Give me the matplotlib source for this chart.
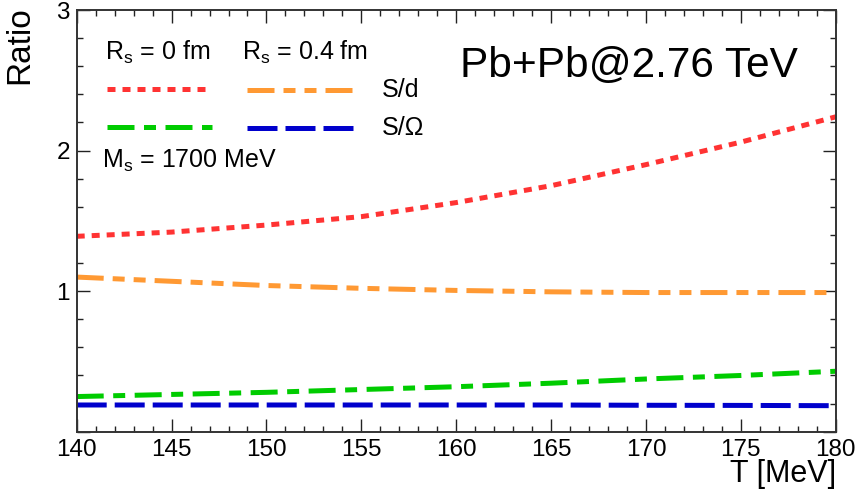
import matplotlib
matplotlib.use("Agg")
import matplotlib.pyplot as plt
from matplotlib.lines import Line2D
from matplotlib.ticker import MultipleLocator

plt.rcParams["font.family"] = ["Liberation Sans", "DejaVu Sans"]
plt.rcParams["mathtext.fontset"] = "custom"
plt.rcParams["mathtext.rm"] = "Liberation Sans"

# ── data ─────────────────────────────────────────────────────────────────────
T = [140, 145, 150, 155, 160, 165, 170, 175, 180]
s_d_r0 = [1.39, 1.42, 1.47, 1.53, 1.63, 1.75, 1.90, 2.06, 2.24]
s_d_r04 = [1.10, 1.07, 1.04, 1.02, 1.005, 0.995, 0.99, 0.99, 0.99]
s_om_r0 = [0.25, 0.265, 0.28, 0.30, 0.32, 0.345, 0.375, 0.40, 0.43]
s_om_r04 = [0.19, 0.19, 0.19, 0.19, 0.19, 0.19, 0.188, 0.187, 0.185]

ytick_vals = [0, 1, 2, 3]
ytick_labels = ["", "1", "2", "3"]
xtick_vals = [140, 145, 150, 155, 160, 165, 170, 175, 180]

RED = "#ff3333"
ORANGE = "#ff9933"
GREEN = "#00cc00"
BLUE = "#0000cc"
LW = 3.6
STYLES = {
    "red":    (0, (1.6, 1.4)),
    "orange": (0, (5.4, 1.8, 2.4, 1.8, 2.4, 1.8)),
    "green":  (0, (5.4, 1.9, 2.4, 1.9)),
    "blue":   (0, (6.0, 1.6)),
}

W, H = 856, 491
fig = plt.figure(figsize=(W / 100, H / 100), dpi=100)
ax = fig.add_axes([76.7 / W, 1 - 431.7 / H, 759 / W, 421.7 / H])

ax.plot(T, s_d_r0, color=RED, lw=LW, ls=STYLES["red"])
ax.plot(T, s_d_r04, color=ORANGE, lw=LW, ls=STYLES["orange"])
ax.plot(T, s_om_r0, color=GREEN, lw=LW, ls=STYLES["green"])
ax.plot(T, s_om_r04, color=BLUE, lw=LW, ls=STYLES["blue"])

ax.set_xlim(140, 180)
ax.set_ylim(0, 3)
ax.set_xticks(xtick_vals)
ax.set_yticks(ytick_vals)
ax.set_yticklabels(ytick_labels)
ax.xaxis.set_minor_locator(MultipleLocator(1))
ax.yaxis.set_minor_locator(MultipleLocator(0.2))
ax.tick_params(which="both", direction="in", top=True, right=True,
               width=1.0, color="#222222", labelsize=17.5, pad=5)
ax.tick_params(which="major", length=9.4)
ax.tick_params(which="minor", length=4.3)
for sp in ax.spines.values():
    sp.set_linewidth(1.4)
    sp.set_color("#333333")


# ── legend / annotations, placed in pixel positions ─────────────────────────
def fx(px):
    return px / W


def fy(py):
    return 1 - py / H


fig.text(fx(20), fy(6), "Ratio", rotation=90, ha="center", va="top", fontsize=24)
# x label sits at the very bottom edge, as in the reference
fig.text(fx(836), fy(489), "T [MeV]", ha="right", va="bottom", fontsize=22)

fig.text(fx(105), fy(60), r"R$_\mathregular{s}$ = 0 fm", fontsize=18, va="baseline")
fig.text(fx(242), fy(60), r"R$_\mathregular{s}$ = 0.4 fm", fontsize=18, va="baseline")
fig.text(fx(102), fy(168), r"M$_\mathregular{s}$ = 1700 MeV", fontsize=18, va="baseline")
fig.text(fx(382), fy(90), "S/d", fontsize=18, va="center")
fig.text(fx(382), fy(128), "S/Ω", fontsize=18, va="center")
fig.text(fx(460), fy(77), "Pb+Pb@2.76 TeV", fontsize=30.5, va="baseline")

legend_lines = [
    (107, 207, 89, RED, "red"),
    (247, 353, 90, ORANGE, "orange"),
    (107, 212, 127, GREEN, "green"),
    (247, 353, 128, BLUE, "blue"),
]
for x0, x1, y, c, key in legend_lines:
    fig.add_artist(Line2D([fx(x0), fx(x1)], [fy(y), fy(y)], color=c, lw=LW,
                          ls=STYLES[key], transform=fig.transFigure))

fig.savefig("out.png", dpi=100)
